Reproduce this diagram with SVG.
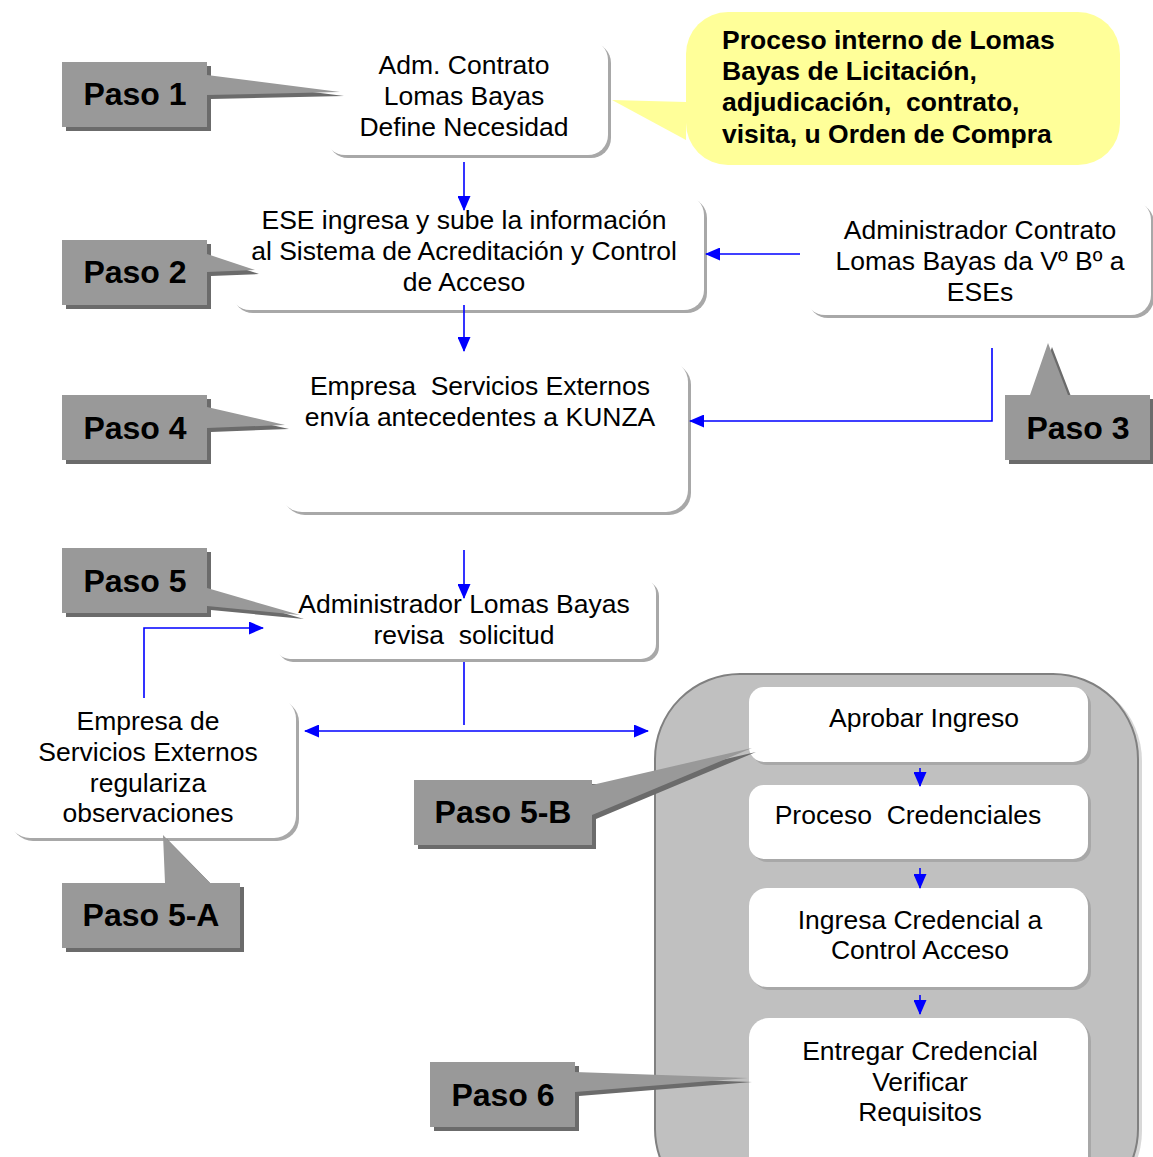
<svg xmlns="http://www.w3.org/2000/svg" width="1153" height="1157" viewBox="0 0 1153 1157">
<defs>
<style>
text{font-family:"Liberation Sans",Arial,sans-serif;white-space:pre;fill:#000}
.t{font-size:26.5px;text-anchor:middle}
.y{font-size:26.5px;font-weight:bold}
.p{font-size:32px;font-weight:bold;text-anchor:middle}
.pb{fill:#999999}
.ps{fill:#6b6b6b}
.wb{fill:#ffffff}
.ws{fill:#a8a8a8}
.c{stroke:#0000ff;stroke-width:1.6;fill:none}
</style>
<marker id="ah" viewBox="0 0 15 13" refX="14" refY="6.5" markerWidth="15" markerHeight="13" markerUnits="userSpaceOnUse" orient="auto-start-reverse">
<path d="M0,0 L15,6.5 L0,13 Z" fill="#0000ff"/>
</marker>
</defs>
<rect width="1153" height="1157" fill="#ffffff"/>

<g id="n1">
<rect class="ws" x="328" y="43" width="283" height="115" rx="20"/>
<rect class="wb" x="325" y="40" width="283" height="115" rx="20"/>
<text class="t" x="464" y="74">Adm. Contrato</text>
<text class="t" x="464" y="105">Lomas Bayas</text>
<text class="t" x="464" y="136">Define Necesidad</text>
</g>

<g id="note">
<path d="M686,102 L612,100 L686,140 Z" fill="#ffff99"/>
<rect x="686" y="12" width="434" height="153" rx="42" fill="#ffff99"/>
<text class="y" x="722" y="49">Proceso interno de Lomas</text>
<text class="y" x="722" y="80">Bayas de Licitación,</text>
<text class="y" x="722" y="111">adjudicación,  contrato,</text>
<text class="y" x="722" y="143">visita, u Orden de Compra</text>
</g>

<g id="n2">
<rect class="ws" x="233" y="198" width="474" height="115" rx="20"/>
<rect class="wb" x="230" y="195" width="474" height="115" rx="20"/>
<text class="t" x="464" y="229">ESE ingresa y sube la información</text>
<text class="t" x="464" y="260">al Sistema de Acreditación y Control</text>
<text class="t" x="464" y="291">de Acceso</text>
</g>

<g id="n3">
<rect class="ws" x="808" y="203" width="346" height="115" rx="20"/>
<rect class="wb" x="805" y="200" width="346" height="115" rx="20"/>
<text class="t" x="980" y="239">Administrador Contrato</text>
<text class="t" x="980" y="270">Lomas Bayas da Vº Bº a</text>
<text class="t" x="980" y="301">ESEs</text>
</g>

<g id="n4">
<rect class="ws" x="283" y="363" width="408" height="152" rx="22"/>
<rect class="wb" x="280" y="360" width="408" height="152" rx="22"/>
<text class="t" x="480" y="395">Empresa  Servicios Externos</text>
<text class="t" x="480" y="426">envía antecedentes a KUNZA</text>
</g>

<g id="n5">
<rect class="ws" x="278" y="581" width="381" height="81" rx="15"/>
<rect class="wb" x="275" y="578" width="381" height="81" rx="15"/>
<text class="t" x="464" y="613">Administrador Lomas Bayas</text>
<text class="t" x="464" y="644">revisa  solicitud</text>
</g>

<g id="n5a">
<rect class="ws" x="11" y="700" width="288" height="141" rx="22"/>
<rect class="wb" x="8" y="697" width="288" height="141" rx="22"/>
<text class="t" x="148" y="730">Empresa de</text>
<text class="t" x="148" y="761">Servicios Externos</text>
<text class="t" x="148" y="792">regulariza</text>
<text class="t" x="148" y="822">observaciones</text>
</g>

<g id="group5b">
<rect x="659" y="676" width="483" height="540" rx="85" fill="#d8d8d8"/>
<rect x="655" y="674" width="483" height="540" rx="85" fill="#c0c0c0" stroke="#808080" stroke-width="2"/>
</g>

<g id="i1">
<rect class="ws" x="752" y="690" width="339" height="75" rx="15"/>
<rect class="wb" x="749" y="687" width="339" height="75" rx="15"/>
<text class="t" x="924" y="727">Aprobar Ingreso</text>
</g>
<g id="i2">
<rect class="ws" x="752" y="788" width="339" height="74" rx="15"/>
<rect class="wb" x="749" y="785" width="339" height="74" rx="15"/>
<text class="t" x="908" y="824">Proceso  Credenciales</text>
</g>
<g id="i3">
<rect class="ws" x="752" y="891" width="339" height="99" rx="18"/>
<rect class="wb" x="749" y="888" width="339" height="99" rx="18"/>
<text class="t" x="920" y="929">Ingresa Credencial a</text>
<text class="t" x="920" y="959">Control Acceso</text>
</g>
<g id="i4">
<rect class="ws" x="752" y="1021" width="339" height="170" rx="20"/>
<rect class="wb" x="749" y="1018" width="339" height="170" rx="20"/>
<text class="t" x="920" y="1060">Entregar Credencial</text>
<text class="t" x="920" y="1091">Verificar</text>
<text class="t" x="920" y="1121">Requisitos</text>
</g>

<g id="paso1">
<path class="ps" transform="translate(4,4)" d="M62,62 H207 V75 L340,92 L207,95 V127 H62 Z"/>
<path class="pb" d="M62,62 H207 V75 L340,92 L207,95 V127 H62 Z"/>
<text class="p" x="135" y="105">Paso 1</text>
</g>
<g id="paso2">
<path class="ps" transform="translate(4,4)" d="M62,240 H207 V254 L255,270 L207,272 V305 H62 Z"/>
<path class="pb" d="M62,240 H207 V254 L255,270 L207,272 V305 H62 Z"/>
<text class="p" x="135" y="283">Paso 2</text>
</g>
<g id="paso3">
<path class="ps" transform="translate(4,4)" d="M1005,395 H1030 L1048,343 L1068,395 H1150 V460 H1005 Z"/>
<path class="pb" d="M1005,395 H1030 L1048,343 L1068,395 H1150 V460 H1005 Z"/>
<text class="p" x="1078" y="439">Paso 3</text>
</g>
<g id="paso4">
<path class="ps" transform="translate(4,4)" d="M62,395 H207 V407 L285,425 L207,428 V460 H62 Z"/>
<path class="pb" d="M62,395 H207 V407 L285,425 L207,428 V460 H62 Z"/>
<text class="p" x="135" y="439">Paso 4</text>
</g>
<g id="paso5">
<path class="ps" transform="translate(4,4)" d="M62,548 H207 V588 L300,615 L207,606 V613 H62 Z"/>
<path class="pb" d="M62,548 H207 V588 L300,615 L207,606 V613 H62 Z"/>
<text class="p" x="135" y="592">Paso 5</text>
</g>
<g id="paso5a">
<path class="ps" transform="translate(4,4)" d="M62,883 H165 L163,835 L210,883 H240 V948 H62 Z"/>
<path class="pb" d="M62,883 H165 L163,835 L210,883 H240 V948 H62 Z"/>
<text class="p" x="151" y="926">Paso 5-A</text>
</g>
<g id="paso5b">
<path class="ps" transform="translate(4,4)" d="M414,780 H592 V785 L752,748 L592,815 V845 H414 Z"/>
<path class="pb" d="M414,780 H592 V785 L752,748 L592,815 V845 H414 Z"/>
<text class="p" x="503" y="823">Paso 5-B</text>
</g>
<g id="paso6">
<path class="ps" transform="translate(4,4)" d="M430,1062 H575 V1072 L748,1078 L575,1092 V1127 H430 Z"/>
<path class="pb" d="M430,1062 H575 V1072 L748,1078 L575,1092 V1127 H430 Z"/>
<text class="p" x="503" y="1106">Paso 6</text>
</g>

<g id="connectors">
<path class="c" d="M464,162 V210" marker-end="url(#ah)"/>
<path class="c" d="M800,254 H706" marker-end="url(#ah)"/>
<path class="c" d="M464,305 V351" marker-end="url(#ah)"/>
<path class="c" d="M992,348 V421 H690" marker-end="url(#ah)"/>
<path class="c" d="M464,550 V598" marker-end="url(#ah)"/>
<path class="c" d="M464,662 V725"/>
<path class="c" d="M305,731 H648" marker-start="url(#ah)" marker-end="url(#ah)"/>
<path class="c" d="M144,698 V628 H263" marker-end="url(#ah)"/>
<path class="c" d="M920,768 V786" marker-end="url(#ah)"/>
<path class="c" d="M920,868 V888" marker-end="url(#ah)"/>
<path class="c" d="M920,995 V1014" marker-end="url(#ah)"/>
</g>
</svg>
